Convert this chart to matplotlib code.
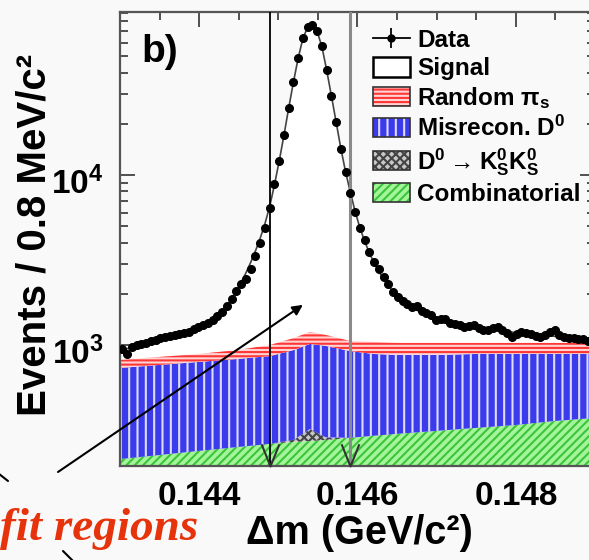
import numpy as np
import matplotlib
matplotlib.use("Agg")
import matplotlib.pyplot as plt
from matplotlib.patches import Patch
from matplotlib.lines import Line2D
from matplotlib.legend_handler import HandlerTuple
from matplotlib.path import Path
from matplotlib.ticker import MultipleLocator, NullFormatter
from matplotlib.transforms import ScaledTranslation

plt.rcParams["font.family"] = ["Liberation Sans", "DejaVu Sans"]
plt.rcParams["font.weight"] = "bold"
plt.rcParams["axes.labelweight"] = "bold"
plt.rcParams["mathtext.default"] = "regular"
plt.rcParams["hatch.linewidth"] = 1.5

# Binning in delta-m: 100 bins over [0.143, 0.149] GeV/c^2
DM_LO, DM_HI, N_BINS = 0.143, 0.149, 100

events = [
    945, 880, 970, 1000, 1010, 1030, 1060, 1070, 1100, 1110,
    1130, 1150, 1160, 1180, 1190, 1240, 1280, 1310, 1350, 1400,
    1480, 1560, 1700, 1870, 2080, 2290, 2450, 2800, 3340, 3990,
    4880, 6400, 8850, 12100, 17200, 24800, 35200, 48800, 64000, 74000,
    76200, 70300, 57400, 41500, 29200, 20500, 14200, 10400, 7830, 6060,
    4880, 4150, 3530, 3080, 2800, 2510, 2290, 2050, 1920, 1820,
    1740, 1670, 1690, 1580, 1540, 1500, 1400, 1420, 1420, 1350,
    1330, 1310, 1280, 1290, 1310, 1260, 1220, 1220, 1260, 1280,
    1220, 1180, 1110, 1160, 1190, 1180, 1160, 1130, 1110, 1150,
    1190, 1220, 1150, 1110, 1100, 1100, 1080, 1080, 1050, 1030,
]

fit_total = [
    930, 950, 970, 990, 1010, 1030, 1050, 1070, 1090, 1110,
    1130, 1150, 1170, 1190, 1210, 1240, 1270, 1305, 1345, 1400,
    1470, 1560, 1690, 1860, 2070, 2330, 2650, 3050, 3560, 4230,
    5150, 6500, 8700, 12000, 17000, 24600, 35000, 48500, 63500, 74000,
    76000, 70000, 57000, 41500, 29300, 20500, 14300, 10400, 7900, 6100,
    4900, 4080, 3480, 3030, 2700, 2440, 2230, 2060, 1930, 1820,
    1730, 1660, 1600, 1550, 1510, 1470, 1430, 1400, 1370, 1350,
    1330, 1310, 1290, 1280, 1270, 1260, 1250, 1240, 1230, 1220,
    1210, 1200, 1190, 1180, 1175, 1170, 1160, 1150, 1140, 1135,
    1130, 1125, 1120, 1110, 1100, 1095, 1090, 1080, 1070, 1060,
]

# Background components (not stacked) at these delta-m points
bkg_dm = [0.1430, 0.1435, 0.1440, 0.1445, 0.1449, 0.1452, 0.1454, 0.1456,
          0.1459, 0.1462, 0.1465, 0.1470, 0.1475, 0.1480, 0.1485, 0.1490]
comb = [213, 225, 238, 251, 262, 269, 272, 276,
        284, 292, 300, 312, 325, 338, 357, 372]
ksks = [0, 0, 0, 0, 0, 8, 48, 10,
        0, 0, 0, 0, 0, 0, 0, 0]
misrecon = [519, 538, 557, 577, 599, 658, 694, 701,
            638, 593, 573, 561, 560, 547, 528, 513]
random_pis = [84, 87, 90, 107, 139, 165, 179, 158,
              134, 157, 155, 155, 143, 143, 143, 143]

SIGNAL_CUTS = [0.1449, 0.1459]
Y_MIN, Y_MAX = 194, 91000

BG = "#f9f9f9"
STYLES = {
    "comb": dict(facecolor="#a4f59a", edgecolor="#3cc43c", hatch="////"),
    "ksks": dict(facecolor="#c8c8c8", edgecolor="#444444", hatch="xxxx"),
    "mis": dict(facecolor="#3b3bec", edgecolor="#dcdcff", hatch="||"),
    "rnd": dict(facecolor="#ffd4d4", edgecolor="#ff3636", hatch="----"),
}

dm = np.linspace(DM_LO, DM_HI, N_BINS + 1)
dm = 0.5 * (dm[:-1] + dm[1:])

fig = plt.figure(figsize=(5.89, 5.60), dpi=100, facecolor=BG)
ax = fig.add_axes([0.2037, 0.1679, 0.8065, 0.8107])
ax.set_facecolor(BG)

# signal region (white) under the total fit
ax.fill_between(dm, Y_MIN, fit_total, color="white", lw=0, zorder=1)

# stacked backgrounds
s0 = np.array(comb, dtype=float)
s1 = s0 + np.array(ksks)
s2 = s1 + np.array(misrecon)
s3 = s2 + np.array(random_pis)
ax.fill_between(bkg_dm, Y_MIN, s0, lw=0, zorder=2, **STYLES["comb"])
ax.fill_between(bkg_dm, s0, s1, lw=0, zorder=2, **STYLES["ksks"])
ax.fill_between(bkg_dm, s1, s2, lw=0, zorder=2, **STYLES["mis"])
ax.fill_between(bkg_dm, s2, s3, lw=0, zorder=2, **STYLES["rnd"])

ax.plot(dm, fit_total, color="#444444", lw=1.2, zorder=3)

# signal window cuts with V marks at the bottom
ax.axvline(SIGNAL_CUTS[0], color="black", lw=1.3, zorder=4)
ax.axvline(SIGNAL_CUTS[1], color="#8a8a8a", lw=2.2, zorder=4)
v_mark = Path([(-0.4, 1.0), (0.0, 0.0), (0.4, 1.0)],
              [Path.MOVETO, Path.LINETO, Path.LINETO])
ax.plot(SIGNAL_CUTS, [Y_MIN, Y_MIN], ls="none", marker=v_mark, ms=32,
        mfc="none", mec="#333333", mew=1.5, zorder=4, clip_on=False)

ax.plot(dm, events, ls="none", marker="o", ms=5.5, color="black", zorder=5)

ax.set_yscale("log")
ax.set_xlim(DM_LO, DM_HI)
ax.set_ylim(Y_MIN, Y_MAX)
ax.set_xticks([0.144, 0.146, 0.148], labels=["0.144", "0.146", "0.148"])
ax.xaxis.set_minor_locator(MultipleLocator(0.0005))
ax.set_yticks([1e3, 1e4], labels=["$10^3$", "$10^4$"])
ax.yaxis.set_minor_formatter(NullFormatter())
ax.tick_params(which="both", direction="in", top=True, right=True,
               width=1.2, color="#333333", labelsize=24)
ax.tick_params(which="major", length=11)
ax.tick_params(which="minor", length=6)
ax.tick_params(axis="x", pad=11)
ax.tick_params(axis="y", pad=12)
# ROOT-style placement: exponent labels sit a little below their ticks
for lab in ax.get_yticklabels():
    lab.set_transform(lab.get_transform()
                      + ScaledTranslation(0, -0.05, fig.dpi_scale_trans))
for sp in ax.spines.values():
    sp.set_color("#555555")
    sp.set_linewidth(1.6)

ax.set_xlabel("Δm (GeV/c²)", fontsize=28.5)
ax.xaxis.set_label_coords(0.505, -0.106)
ax.set_ylabel("Events / 0.8 MeV/c²", fontsize=29)
ax.yaxis.set_label_coords(-0.141, 0.509)

ax.text(0.046, 0.952, "b)", transform=ax.transAxes, fontsize=28,
        va="top", ha="left")

border = dict(facecolor="none", edgecolor="#333333", lw=1.2)
handles = [
    (Line2D([], [], color="black", lw=1.3),
     Line2D([], [], ls="none", marker="|", ms=15, mew=1.3, color="black"),
     Line2D([], [], ls="none", marker="o", ms=5, color="black")),
    Patch(facecolor="white", edgecolor="black", lw=1.8),
    (Patch(lw=0, **STYLES["rnd"]), Patch(**border)),
    (Patch(lw=0, **STYLES["mis"]), Patch(**border)),
    (Patch(lw=0, **STYLES["ksks"]), Patch(**border)),
    (Patch(lw=0, **STYLES["comb"]), Patch(**border)),
]
labels = ["Data", "Signal", "Random $\\pi_s$", "Misrecon. D$^0$",
          "D$^0\\rightarrow$K$^0_S$K$^0_S$", "Combinatorial"]
ax.legend(handles, labels, loc="upper left", bbox_to_anchor=(0.533, 0.962),
          frameon=False, fontsize=17.5, handlelength=1.5, handleheight=0.85,
          handletextpad=0.3, labelspacing=0.2, borderaxespad=0,
          borderpad=0, handler_map={tuple: HandlerTuple(ndivide=1, pad=0)})

# "fit regions" callout and its arrows
fig.text(0.0, 20 / 560, "fit regions", family="Liberation Serif",
         style="italic", weight="bold", fontsize=34, color="#e6330c",
         va="baseline", ha="left")
ax.annotate("", xy=(0.14531, 1720), xycoords="data",
            xytext=(58, 88), textcoords="figure pixels",
            arrowprops=dict(arrowstyle="-|>", color="black", lw=1.5,
                            mutation_scale=15, shrinkA=0, shrinkB=0),
            annotation_clip=False, zorder=6)
ax.annotate("", xy=(-40, 117), xycoords="figure pixels",
            xytext=(8, 79), textcoords="figure pixels",
            arrowprops=dict(arrowstyle="-", color="black", lw=1.5,
                            shrinkA=0, shrinkB=0))
ax.annotate("", xy=(110, -38), xycoords="figure pixels",
            xytext=(63, 9), textcoords="figure pixels",
            arrowprops=dict(arrowstyle="-", color="black", lw=1.5,
                            shrinkA=0, shrinkB=0))

fig.savefig("out.png", dpi=100, facecolor=fig.get_facecolor())
